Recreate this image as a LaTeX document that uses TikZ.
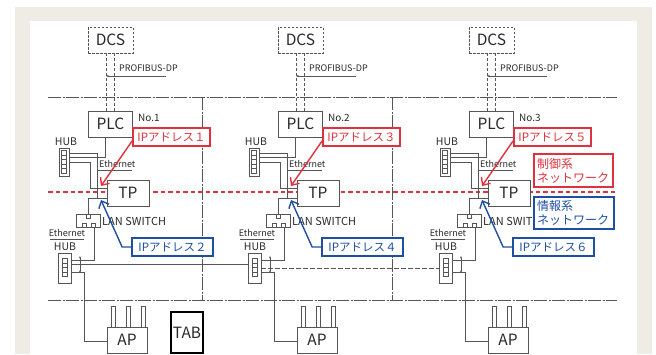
\documentclass[tikz,border=0pt]{standalone}
\usepackage{fontspec}
\setmainfont{Noto Sans CJK JP}
\usetikzlibrary{arrows.meta}
\definecolor{framec}{HTML}{EEECE5}
\definecolor{ln}{HTML}{555555}
\definecolor{txt}{HTML}{2A2A2A}
\definecolor{myred}{HTML}{E0323E}
\definecolor{myblue}{HTML}{1E4FA2}
\newcommand\myfs[1]{\fontsize{#1}{#1}\selectfont}
\begin{document}
\begin{tikzpicture}[x=1pt,y=-1pt,
  wire/.style={draw=ln,line width=0.6pt},
  dashdot/.style={draw=ln,line width=0.6pt,dash pattern=on 13pt off 1.5pt on 2pt off 1.5pt},
  unit/.style={draw=ln,line width=0.6pt,fill=white,inner sep=0pt,text=txt,font=\myfs{15.5}},
  dcsdash/.style={dash pattern=on 2.5pt off 1.5pt},
  dcsline/.style={draw=ln,line width=0.6pt,dash pattern=on 3pt off 2pt},
  lbl/.style={inner sep=0pt,text=txt},
  hubdev/.style={draw=ln,line width=0.6pt,fill=white,inner sep=0pt},
  redbox/.style={draw=myred,line width=1.7pt,fill=white,text=myred,inner sep=0pt,font=\myfs{11.5}},
  bluebox/.style={draw=myblue,line width=1.7pt,fill=white,text=myblue,inner sep=0pt,font=\myfs{11.5}},
  redarrow/.style={draw=myred,line width=1.4pt,-{Straight Barb[length=6pt,width=11pt]}},
  bluearrow/.style={draw=myblue,line width=1.4pt,-{Straight Barb[length=6pt,width=11pt]}},
  smallarr/.style={wire,{Stealth[length=2.5pt,width=2pt]}-{Stealth[length=2.5pt,width=2pt]}}
]
\useasboundingbox (0,0) rectangle (656,354);
\fill[white] (0,0) rectangle (656,354);
\fill[framec] (15,7) rectangle (652,354);
\fill[white] (30,21) rectangle (637,354);
% zone lines
\draw[dashdot] (48,97) -- (617,97);
\draw[dashdot] (48,300) -- (617,300);
\draw[dashdot] (202,97) -- (202,300);
\draw[dashdot] (392,97) -- (392,300);
% control network line
\draw[myred,line width=1.8pt,dash pattern=on 4.5pt off 3pt] (48,192) -- (617,192);

\foreach \o/\n/\ra/\rb/\swtext in {0/1/１/２/LAN SWITCH,190/2/３/４/LAN SWITCH,381/3/５/６/LAN SWIT}{
\begin{scope}[xshift=\o pt]
 % DCS / PLC
 \node[unit,dcsdash,minimum width=45pt,minimum height=26pt] (dcs\n) at (110.5,40) {DCS};
 \node[unit,minimum width=44pt,minimum height=26pt] (plc\n) at (110.5,124) {PLC};
 \draw[dcsline] ([xshift=-4pt]dcs\n.south) -- ([xshift=-4pt]plc\n.north);
 \draw[dcsline] ([xshift=4pt]dcs\n.south) -- ([xshift=4pt]plc\n.north);
 \node[lbl,font=\myfs{9},anchor=west] (pb\n) at (119,68) {PROFIBUS-DP};
 \coordinate (pbe\n) at (166,76);
 \coordinate (pbs\n) at (106,76);
 \draw[wire,-{Stealth[length=3pt,width=2.4pt]}] (pbe\n) -- (pbs\n);
 \node[lbl,font=\myfs{10},anchor=west] (no\n) at (138,118) {No.\n};
 % upper hub
 \node[lbl,font=\myfs{10.5}] (hubt\n) at (66,142) {HUB};
 \node[hubdev,minimum width=10pt,minimum height=28pt] (hubu\n) at (64,162.5) {};
 \foreach \k in {0,...,4} \draw[wire] (61.5,150.5+4.5*\k) rectangle ++(5,4.5);
 % TP and switch
 \node[unit,minimum width=42pt,minimum height=26pt] (tp\n) at (128,193) {TP};
 \node[hubdev,minimum width=24pt,minimum height=13pt] (sw\n) at (88,220.5) {};
 \draw[wire] (86,214) rectangle (90,218);
 \draw[wire] (82,223) rectangle (86,227);
 \draw[wire] (91,223) rectangle (95,227);
 \node[lbl,font=\myfs{11},anchor=west] (swt\n) at (102,221) {\swtext};
 % upper wiring
 \coordinate (wa\n) at (105,157);
 \draw[wire] (plc\n.south -| wa\n) -- (wa\n) -- (hubu\n.east |- wa\n);
 \coordinate (wb\n) at (97,153);
 \coordinate (wbb\n) at (97,198);
 \draw[wire] (hubu\n.east |- wb\n) -- (wb\n) -- (wbb\n);
 \coordinate (wc\n) at (90,162);
 \coordinate (wcc\n) at (90,188);
 \draw[wire] (hubu\n.east |- wc\n) -- (wc\n) -- (wcc\n) -- (tp\n.west |- wcc\n);
 \coordinate (wd\n) at (88,198);
 \draw[wire] (sw\n.north) -- (wd\n) -- (tp\n.west |- wd\n);
 \node[lbl,font=\myfs{9},anchor=west] (eth\n) at (99,164) {Ethernet};
 \coordinate (eu\n) at (98,170);
 \coordinate (euu\n) at (132,170);
 \draw[wire] (eu\n) -- (euu\n);
 % lower hub
 \node[lbl,font=\myfs{9}] (ethl\n) at (67,233) {Ethernet};
 \coordinate (el\n) at (50,239);
 \coordinate (ell\n) at (84,239);
 \draw[wire] (el\n) -- (ell\n);
 \node[lbl,font=\myfs{10.5}] (hubtl\n) at (65,247) {HUB};
 \node[hubdev,minimum width=13pt,minimum height=30pt] (hubl\n) at (64.5,268) {};
 \foreach \k in {0,...,3} \draw[wire] (62,258.5+4.5*\k) rectangle ++(5,4.5);
 \coordinate (we\n) at (94,260);
 \draw[wire] (sw\n.south -| we\n) -- (we\n) -- (hubl\n.east |- we\n);
 \coordinate (ma\n) at (80,256);
 \coordinate (mb\n) at (80,273);
 \draw[smallarr] (ma\n) -- (mb\n);
 % AP
 \foreach \ax in {111,126,141} \draw[wire,fill=white] (\ax,306) rectangle ++(4,21);
 \node[unit,minimum width=40pt,minimum height=26pt] (ap\n) at (127,340) {AP};
 \coordinate (wf\n) at (84,272);
 \coordinate (wff\n) at (84,341);
 \draw[wire] (hubl\n.east |- wf\n) -- (wf\n) -- (wff\n) -- (ap\n.west |- wff\n);
 % IP address labels
 \node[redbox,minimum width=77pt,minimum height=18pt] (ipr\n) at (171.5,137) {IPアドレス\ra};
 \node[bluebox,minimum width=81pt,minimum height=18pt] (ipb\n) at (172.5,247) {IPアドレス\rb};
 \coordinate (tr\n) at (101,186);
 \draw[redarrow] ([yshift=6pt]ipr\n.south west) -- (tr\n);
 \coordinate (tb\n) at (101,200);
 \draw[bluearrow] (ipb\n.west) -- ++(-9,0) -- (tb\n);
\end{scope}}

% backbone between hubs
\coordinate (bb1) at (71,264);
\draw[wire] (hubl1.east |- bb1) -- (hubl2.west |- bb1);
\coordinate (bb2) at (261,268);
\draw[wire,dash pattern=on 5pt off 2pt] (hubl2.east |- bb2) -- (hubl3.west |- bb2);

% legend boxes
\node[redbox,minimum width=79pt,minimum height=33pt,inner xsep=3pt,align=left,font=\fontsize{12}{14}\selectfont,text width=73pt] (ctl) at (573.5,170.5) {制御系\\ネットワーク};
\node[bluebox,minimum width=80pt,minimum height=32pt,inner xsep=3pt,align=left,font=\fontsize{12}{14}\selectfont,text width=74pt] (inf) at (574,213) {情報系\\ネットワーク};

% tablet
\node[draw=black,line width=1.4pt,fill=white,inner sep=0pt,minimum width=32pt,minimum height=41pt,text=txt,font=\myfs{15.5}] (tab) at (187,332.5) {TAB};
\end{tikzpicture}
\end{document}
